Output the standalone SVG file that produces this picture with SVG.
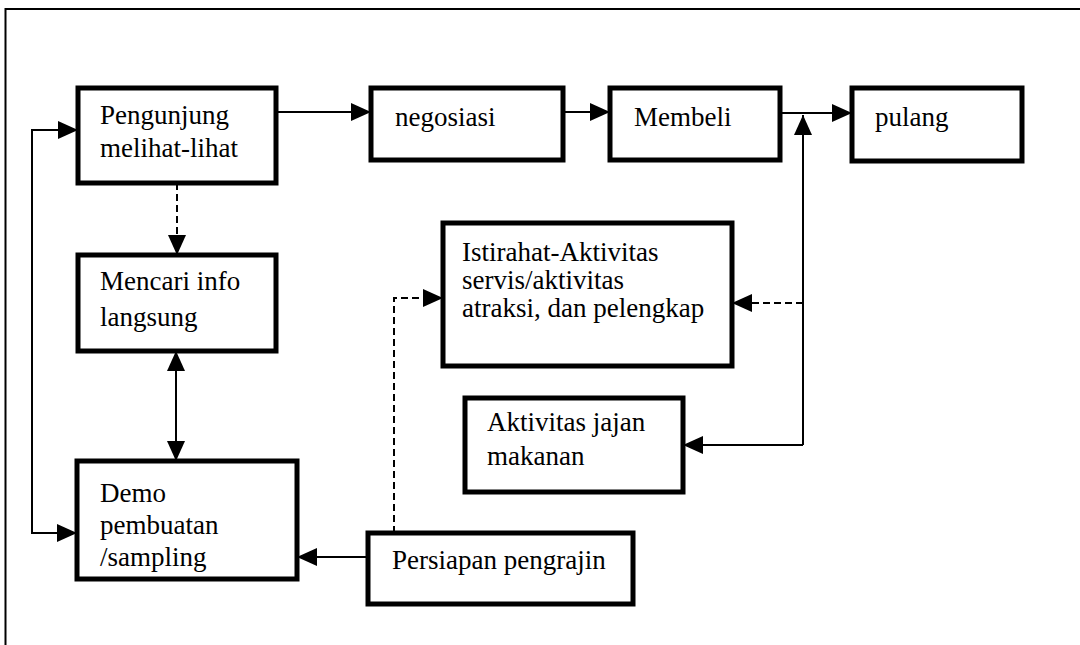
<svg xmlns="http://www.w3.org/2000/svg" width="1080" height="645" viewBox="0 0 1080 645">
<style>
.box{fill:#fff;stroke:#000;stroke-width:5}
.t{font-family:"Liberation Serif","Times New Roman",serif;font-size:27px;fill:#000}
.c{fill:none;stroke:#000;stroke-width:2}
.d{fill:none;stroke:#000;stroke-width:2;stroke-dasharray:7 4}
</style>
<defs>
<marker id="ah" viewBox="0 0 20 18" refX="20" refY="9" markerWidth="20" markerHeight="18" markerUnits="userSpaceOnUse" orient="auto-start-reverse">
<path d="M0,0 L20,9 L0,18 z" fill="#000"/>
</marker>
</defs>
<rect width="1080" height="645" fill="#fff"/>
<path d="M5.5,645 L5.5,9 L1080,9" fill="none" stroke="#000" stroke-width="2"/>
<g id="connectors">
<path class="c" d="M276,112 L371,112" marker-end="url(#ah)"/>
<path class="c" d="M563,112 L610,112" marker-end="url(#ah)"/>
<path class="c" d="M780,113 L852,113" marker-end="url(#ah)"/>
<path class="c" d="M803,445 L803,115" marker-end="url(#ah)"/>
<path class="c" d="M803,445 L683,445" marker-end="url(#ah)"/>
<path class="d" d="M803,303 L732,303" marker-end="url(#ah)"/>
<path class="d" d="M394,533 L394,298 L443,298" marker-end="url(#ah)"/>
<path class="d" d="M177,183 L177,255" marker-end="url(#ah)"/>
<path class="c" d="M176,351 L176,461" marker-start="url(#ah)" marker-end="url(#ah)"/>
<path class="c" d="M78,130 L32,130 L32,533 L77,533" marker-start="url(#ah)" marker-end="url(#ah)"/>
<path class="c" d="M368,557 L297,557" marker-end="url(#ah)"/>
</g>
<g id="n-pengunjung">
<rect class="box" x="78" y="88" width="198" height="95"/>
<text class="t" x="100" y="124">Pengunjung</text>
<text class="t" x="100" y="157">melihat-lihat</text>
</g>
<g id="n-negosiasi">
<rect class="box" x="371" y="88" width="192" height="72"/>
<text class="t" x="395" y="126">negosiasi</text>
</g>
<g id="n-membeli">
<rect class="box" x="610" y="88" width="170" height="72"/>
<text class="t" x="634" y="126">Membeli</text>
</g>
<g id="n-pulang">
<rect class="box" x="852" y="88" width="170" height="73"/>
<text class="t" x="875" y="126">pulang</text>
</g>
<g id="n-mencari">
<rect class="box" x="78" y="255" width="198" height="96"/>
<text class="t" x="100" y="290">Mencari info</text>
<text class="t" x="100" y="326">langsung</text>
</g>
<g id="n-istirahat">
<rect class="box" x="443" y="223" width="289" height="143"/>
<text class="t" x="462" y="261">Istirahat-Aktivitas</text>
<text class="t" x="462" y="289">servis/aktivitas</text>
<text class="t" x="462" y="317">atraksi, dan pelengkap</text>
</g>
<g id="n-jajan">
<rect class="box" x="465" y="398" width="218" height="94"/>
<text class="t" x="487" y="431">Aktivitas jajan</text>
<text class="t" x="487" y="465">makanan</text>
</g>
<g id="n-demo">
<rect class="box" x="77" y="461" width="220" height="118"/>
<text class="t" x="100" y="502">Demo</text>
<text class="t" x="100" y="534">pembuatan</text>
<text class="t" x="100" y="566">/sampling</text>
</g>
<g id="n-persiapan">
<rect class="box" x="368" y="533" width="265" height="71"/>
<text class="t" x="392" y="569">Persiapan pengrajin</text>
</g>
</svg>
